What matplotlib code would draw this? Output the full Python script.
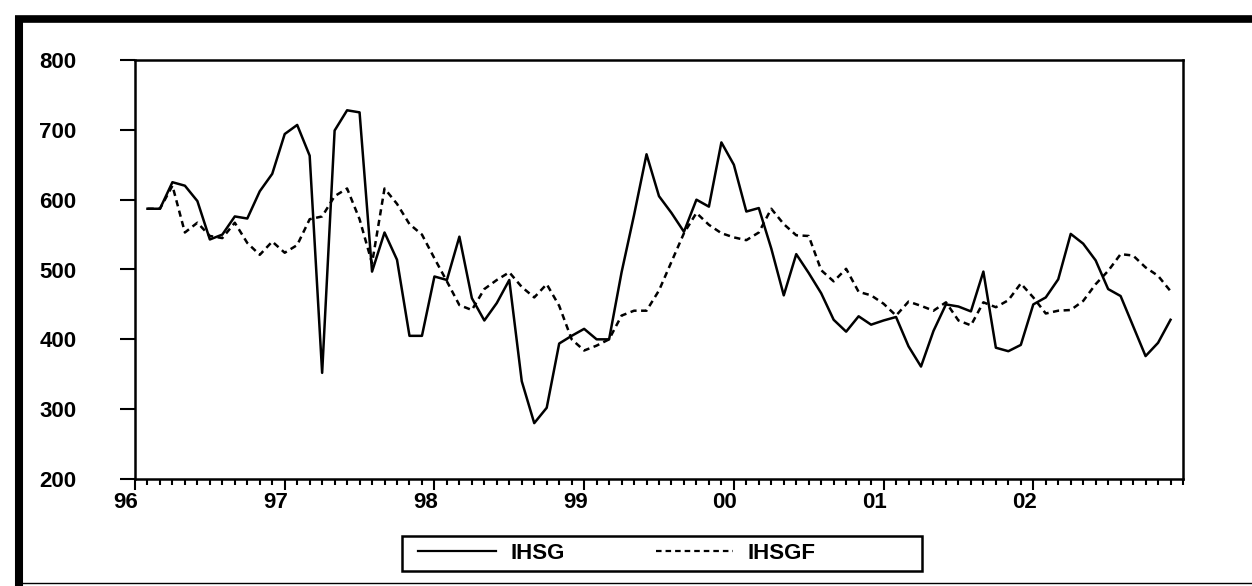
import matplotlib
matplotlib.use("Agg")
import matplotlib.pyplot as plt
import matplotlib.transforms as mtransforms
import numpy as np
from matplotlib.patches import Rectangle
from matplotlib.lines import Line2D
from matplotlib.ticker import MultipleLocator, FixedLocator

# Monthly observations, Feb 1996 - Dec 2002
start_year = 1996
start_month = 2
ihsg = [587, 587, 625, 620, 598, 543, 550, 576, 573, 612, 637,
        694, 707, 663, 352, 699, 728, 725, 497, 553, 514, 405, 405,
        490, 485, 547, 459, 427, 452, 485, 340, 280, 302, 394, 405,
        415, 400, 400, 496, 578, 665, 605, 581, 554, 600, 590, 682,
        650, 583, 588, 530, 463, 522, 495, 466, 428, 411, 433, 421,
        427, 432, 390, 361, 412, 450, 447, 440, 497, 388, 383, 392,
        450, 460, 486, 551, 537, 513, 472, 462, 419, 376, 395, 428]
ihsgf = [587, 587, 620, 553, 567, 548, 545, 567, 538, 521, 540,
         524, 535, 572, 576, 605, 616, 572, 509, 616, 594, 565, 550,
         516, 483, 449, 442, 472, 485, 496, 475, 460, 479, 448, 400,
         384, 391, 400, 434, 441, 441, 470, 511, 552, 581, 564, 552,
         546, 542, 553, 587, 565, 549, 548, 499, 483, 501, 468, 463,
         451, 434, 454, 448, 441, 453, 427, 420, 453, 446, 456, 480,
         460, 437, 441, 442, 455, 479, 498, 522, 520, 503, 491, 469]
year_labels = ["96", "97", "98", "99", "00", "01", "02"]
y_ticks = [200, 300, 400, 500, 600, 700, 800]

n = len(ihsg)
t = start_year + (start_month - 1 + np.arange(n)) / 12.0

plt.rcParams['font.family'] = ['Liberation Sans', 'DejaVu Sans']

W, H = 1252, 586
fig = plt.figure(figsize=(W/100, H/100), dpi=100)
ax = fig.add_axes([135/W, 1-479/H, (1183-135)/W, (479-60)/H])

ax.plot(t, ihsg, color='black', lw=1.8, label='IHSG')
ax.plot(t, ihsgf, color='black', lw=1.8, ls=(0, (2.5, 1.8)), label='IHSGF')

ax.set_xlim(1996, 2003)
ax.set_ylim(200, 800)
ax.set_yticks(y_ticks)
ax.set_yticklabels([str(v) for v in y_ticks], fontsize=16, fontweight='bold')
ax.xaxis.set_major_locator(FixedLocator(np.arange(1996, 2003)))
ax.set_xticklabels(year_labels, fontsize=16, fontweight='bold')
ax.xaxis.set_minor_locator(MultipleLocator(1/12))
ax.tick_params(axis='x', which='major', direction='out', length=8, width=1.5, pad=1)
ax.tick_params(axis='x', which='minor', direction='out', length=4, width=1.5)
ax.tick_params(axis='y', which='major', direction='out', length=11, width=1.5, pad=31)
offset = mtransforms.ScaledTranslation(-9/100, 0, fig.dpi_scale_trans)
for lab in ax.get_xticklabels():
    lab.set_transform(lab.get_transform() + offset)
for s in ax.spines.values():
    s.set_linewidth(1.8)

# Legend (frameless) with its box drawn separately
leg = fig.legend(loc='center left', bbox_to_anchor=(418/W, 1-553.5/H), ncol=2,
                 frameon=False, handlelength=3.5, columnspacing=4.1,
                 borderpad=0.0, borderaxespad=0.0,
                 prop={'size': 16, 'weight': 'bold'}, handletextpad=0.65)
for line in leg.get_lines():
    line.set_linewidth(1.6)
fig.patches.append(Rectangle((402/W, 1-571/H), (922-402)/W, 35/H,
                             transform=fig.transFigure, fill=False,
                             edgecolor='black', linewidth=1.8))

# Outer scanned frame: thick left and top edges, thin bottom edge
fig.lines.append(Line2D([19/W, 19/W], [0, 1-15.5/H], transform=fig.transFigure,
                        color='black', lw=5.8, solid_capstyle='butt'))
fig.lines.append(Line2D([15/W, 1], [1-19/H, 1-19/H], transform=fig.transFigure,
                        color='black', lw=5.5, solid_capstyle='butt'))
fig.lines.append(Line2D([19/W, 1], [1-583/H, 1-583/H], transform=fig.transFigure,
                        color='black', lw=1.0))

fig.savefig('out.png', dpi=100)
